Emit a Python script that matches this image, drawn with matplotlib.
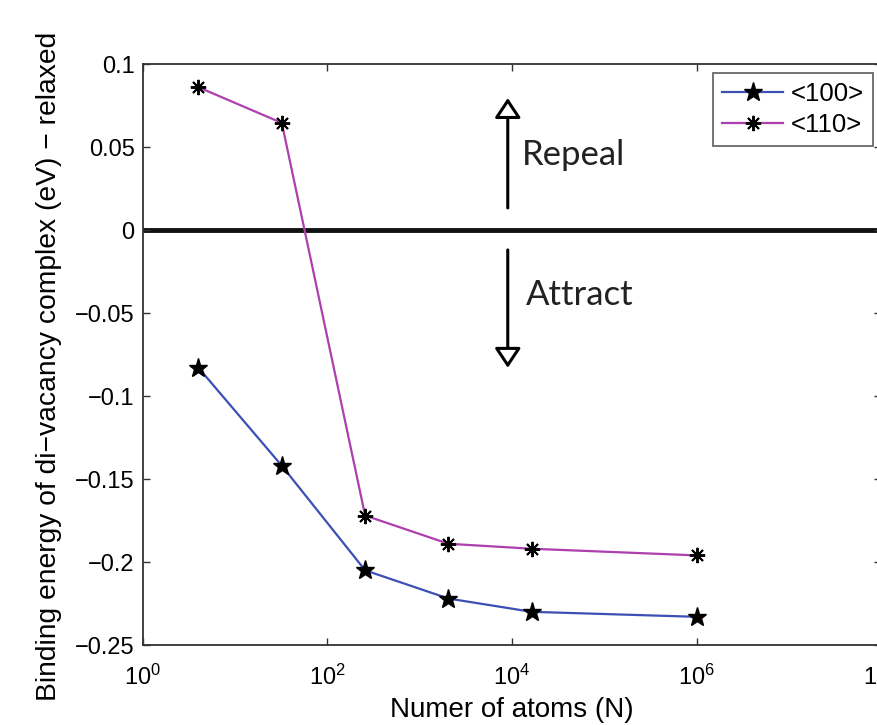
import numpy as np
import matplotlib
matplotlib.use('Agg')
import matplotlib.pyplot as plt

plt.rcParams['font.family'] = ['Liberation Sans', 'DejaVu Sans']
plt.rcParams['mathtext.default'] = 'regular'

# data
atoms = [4, 32, 256, 2048, 16384, 1e6]
e100 = [-0.083, -0.142, -0.205, -0.222, -0.230, -0.233]
e110 = [0.086, 0.0645, -0.172, -0.189, -0.192, -0.196]
xticks = [1e0, 1e2, 1e4, 1e6, 1e8]
xticklabels = ['$10^{0}$', '$10^{2}$', '$10^{4}$', '$10^{6}$', '$10^{8}$']
yticks = [0.1, 0.05, 0, -0.05, -0.1, -0.15, -0.2, -0.25]

fig = plt.figure(figsize=(8.77, 7.25), dpi=100)
ax = fig.add_axes([0.163, 0.1103, 0.8416, 0.8014])

ax.plot(atoms, e100, color='#3c4fb4', lw=1.6, marker='*', ms=14,
        mfc='black', mec='black', label='<100>')
ax.plot(atoms, e110, color='#ad3fae', lw=1.6, marker=(8, 2, 0), ms=11,
        mec='black', mew=1.4, label='<110>')

ax.axhline(0, color='#111111', lw=3.5, zorder=1)

ax.set_xscale('log')
ax.set_xlim(1, 1e8)
ax.set_ylim(-0.25, 0.1)
ax.set_xticks(xticks)
ax.set_xticklabels(xticklabels)
ax.minorticks_off()
ax.set_yticks(yticks)
ax.set_yticklabels(['%g' % v if v >= 0 else '\u2212%g' % -v for v in yticks])

ax.tick_params(direction='in', length=5, width=1, top=True, right=True,
               labelsize=17, color='#333333', pad=6)
ax.tick_params(axis='x', pad=14)
for s in ax.spines.values():
    s.set_linewidth(1.3)
    s.set_color('#333333')

ax.set_xlabel('Numer of atoms (N)', fontsize=20, labelpad=5)
ax.set_ylabel('Binding energy of di\u2212vacancy complex (eV) \u2212 relaxed',
              fontsize=20.3)
ax.yaxis.set_label_coords(-0.110, 0.48)

# repeal / attract arrows
arr = dict(arrowstyle='-|>,head_length=0.6,head_width=0.4', fc='white',
           ec='black', lw=2.2, shrinkA=0, shrinkB=0, mutation_scale=20)
ax.annotate('', xy=(9000, 0.0795), xytext=(9000, 0.0133), arrowprops=arr)
ax.annotate('', xy=(9000, -0.083), xytext=(9000, -0.012), arrowprops=arr)
ax.text(0.514, 0.826, 'Repeal', transform=ax.transAxes, fontsize=25,
        family='Lato', color='#222222')
ax.text(0.519, 0.585, 'Attract', transform=ax.transAxes, fontsize=25,
        family='Lato', color='#222222')

leg = ax.legend(loc='upper left', bbox_to_anchor=(0.772, 0.985), fontsize=18.5,
                frameon=True, fancybox=False, edgecolor='#333333',
                handlelength=2.4, borderpad=0.35, labelspacing=0.3,
                handletextpad=0.3, borderaxespad=0)
leg.get_frame().set_linewidth(1.2)

fig.savefig('out.png', dpi=100)
